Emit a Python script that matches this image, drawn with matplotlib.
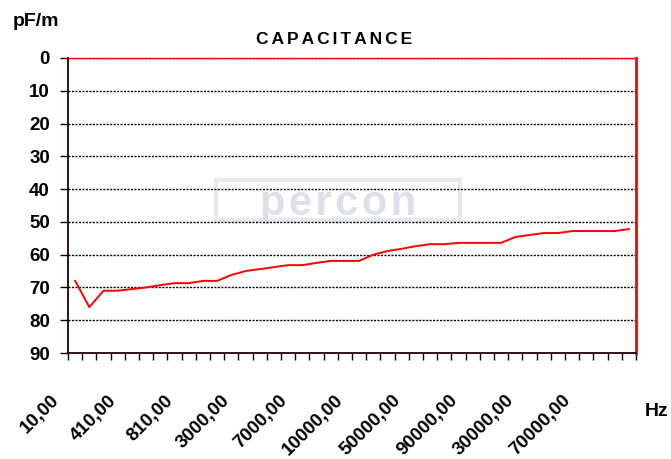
import matplotlib
matplotlib.use("Agg")
import matplotlib.pyplot as plt
from matplotlib.transforms import ScaledTranslation
from matplotlib.patches import Rectangle
import numpy as np

# capacitance (pF/m) at each of the 40 measured frequencies
capacitance = [68, 76, 71, 71, 70.5, 70, 69.3, 68.7, 68.7, 68,
               68, 66.2, 65, 64.4, 63.8, 63.2, 63.2, 62.5, 61.9, 61.9,
               61.9, 60, 58.9, 58.2, 57.4, 56.8, 56.8, 56.4, 56.4, 56.4,
               56.4, 54.6, 54, 53.4, 53.4, 52.8, 52.8, 52.8, 52.8, 52.2]
# only every 4th frequency is labelled on the axis
freq_labels = ["10,00", "410,00", "810,00", "3000,00", "7000,00",
               "10000,00", "50000,00", "90000,00", "30000,00", "70000,00"]
y_ticks = [0, 10, 20, 30, 40, 50, 60, 70, 80, 90]

plt.rcParams['font.family'] = ['Liberation Sans', 'DejaVu Sans']
plt.rcParams['font.weight'] = 'bold'

fig = plt.figure(figsize=(6.71, 4.59), dpi=100)
ax = fig.add_axes([68/671, 106/459, 568/671, 295/459])

x = np.arange(len(capacitance))
ax.plot(x, capacitance, color='#ff0000', lw=1.4, zorder=3)

ax.set_xlim(-0.5, len(capacitance) - 0.5)
ax.set_ylim(90, 0)

# grid lines
for v in y_ticks[:-1]:
    ax.axhline(v, color='black', lw=1.0, ls=(0, (1.5, 1)), zorder=2)

ax.set_yticks(y_ticks)
ax.set_yticklabels([str(v) for v in y_ticks], fontsize=13.5, fontweight='bold')
ax.tick_params(axis='y', length=6, width=1, pad=7, direction='out')

# category boundary ticks
ax.set_xticks(np.arange(-0.5, len(capacitance) + 0.5, 1))
ax.set_xticklabels([])
ax.tick_params(axis='x', which='major', length=5, width=1, direction='out')

# labels on minor ticks
lab_pos = np.arange(0, len(capacitance), 4)
ax.set_xticks(lab_pos, minor=True)
ax.set_xticklabels(freq_labels, minor=True, rotation=45, ha='right', va='top',
                   fontsize=13.5, fontweight='bold')
ax.tick_params(axis='x', which='minor', length=0, pad=28)
shift = ScaledTranslation(-12/100, 0, fig.dpi_scale_trans)
for lab in ax.get_xticklabels(minor=True):
    lab.set_transform(lab.get_transform() + shift)

for side in ['left', 'bottom']:
    ax.spines[side].set_color('#200000')
    ax.spines[side].set_linewidth(1.3)
ax.spines['top'].set_color('#ff0000')
ax.spines['top'].set_linewidth(1.0)
ax.spines['right'].set_color('#ff0000')
ax.spines['right'].set_linewidth(2.0)

# faded logo watermark
ax.add_patch(Rectangle((0.26, 0.45), 0.43, 0.135, transform=ax.transAxes,
                       fill=False, ec='#e6e9ee', lw=3, zorder=1))
ax.text(0.475, 0.505, "p\u200ae\u200ar\u200ac\u200ao\u200an", transform=ax.transAxes,
        ha='center', va='center', fontsize=30, fontweight='bold',
        color='#dde1e7', zorder=1)

fig.text(334/671, 1 - 40/459,
         "C\u200a\u200aA\u200a\u200aP\u200a\u200aA\u200a\u200aC\u200a\u200aI\u200a\u200aT\u200a\u200aA\u200a\u200aN\u200a\u200aC\u200a\u200aE",
         ha='center', va='center', fontsize=12.5, fontweight='bold')
fig.text(36/671, 1 - 21/459, "pF/m", ha='center', va='center',
         fontsize=14, fontweight='bold')
fig.text(657/671, 1 - 412/459, "Hz", ha='center', va='center',
         fontsize=14, fontweight='bold')

fig.savefig("out.png", dpi=100)
